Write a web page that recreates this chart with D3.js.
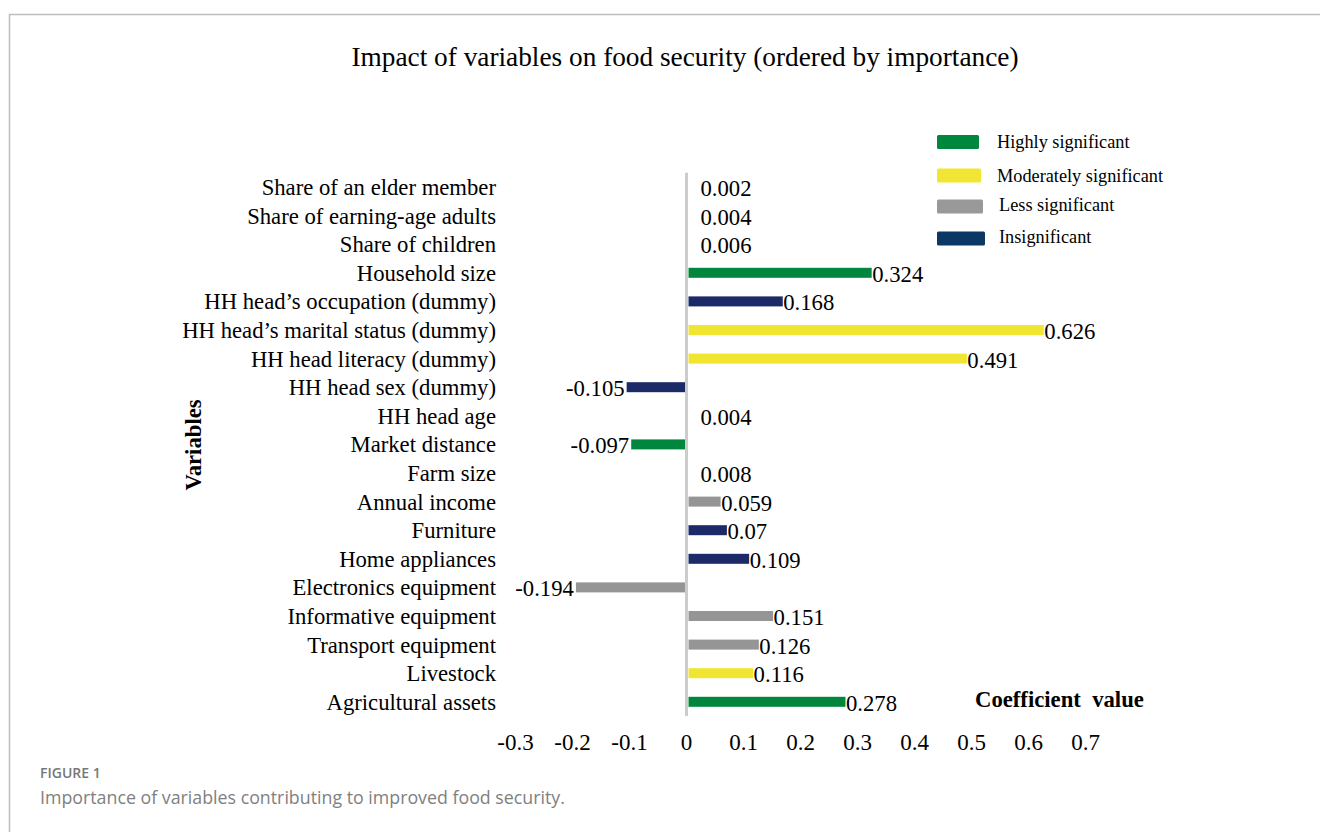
<!DOCTYPE html>
<meta charset="utf-8">
<style>
body { margin: 0; background: #fff; }
text { font-family: "Liberation Serif", "Times New Roman", serif; fill: #000; }
.caption { font-family: "Open Sans", sans-serif; }
</style>
<body>
<script src="https://d3js.org/d3.v7.min.js"></script>
<script>

var width = 1320,
    height = 832;

// variables, top to bottom as in the figure
var variables = [
  "Share of an elder member", "Share of earning-age adults", "Share of children",
  "Household size", "HH head\u2019s occupation (dummy)", "HH head\u2019s marital status (dummy)",
  "HH head literacy (dummy)", "HH head sex (dummy)", "HH head age", "Market distance",
  "Farm size", "Annual income", "Furniture", "Home appliances", "Electronics equipment",
  "Informative equipment", "Transport equipment", "Livestock", "Agricultural assets"
];
var coefs = [0.002, 0.004, 0.006, 0.324, 0.168, 0.626, 0.491, -0.105, 0.004, -0.097,
             0.008, 0.059, 0.07, 0.109, -0.194, 0.151, 0.126, 0.116, 0.278];
// significance group of each variable ("" = no visible bar)
var signif = ["", "", "", "Highly significant", "Insignificant", "Moderately significant",
              "Moderately significant", "Insignificant", "", "Highly significant",
              "", "Less significant", "Insignificant", "Insignificant", "Less significant",
              "Less significant", "Less significant", "Moderately significant", "Highly significant"];

var groups = ["Highly significant", "Moderately significant", "Less significant", "Insignificant"];
var barColors = ["#00873d", "#f0e531", "#959595", "#1d2a68"];
var legendColors = ["#00873d", "#f2e632", "#999999", "#0b3764"];
var ticks = [-0.3, -0.2, -0.1, 0, 0.1, 0.2, 0.3, 0.4, 0.5, 0.6, 0.7];

var svg = d3.select("body").append("svg")
    .attr("width", width)
    .attr("height", height);

// page frame
svg.append("path")
    .attr("d", "M9.5,832V14.5H1320")
    .attr("fill", "none")
    .attr("stroke", "#bdbdbd")
    .attr("stroke-width", 1.5);

var x = d3.scaleLinear().domain([0, 0.7]).range([686.5, 1085.5]);
var y = d3.scaleBand().domain(variables).range([172.7, 716.1]);
var color = d3.scaleOrdinal().domain(groups).range(barColors);

var rows = variables.map(function(v, i) { return {name: v, value: coefs[i], group: signif[i]}; });

svg.append("text")
    .attr("x", 685).attr("y", 66)
    .attr("text-anchor", "middle")
    .style("font-size", "27.3px")
    .text("Impact of variables on food security (ordered by importance)");

// zero line
svg.append("line")
    .attr("x1", x(0)).attr("x2", x(0))
    .attr("y1", y.range()[0]).attr("y2", y.range()[1])
    .attr("stroke", "#cccccc")
    .attr("stroke-width", 3);

var g = svg.append("g");

g.selectAll("rect.bar")
    .data(rows.filter(function(d) { return d.group; }))
    .enter().append("rect")
    .attr("class", "bar")
    .attr("x", function(d) { return d.value > 0 ? x(0) + 2 : x(d.value); })
    .attr("width", function(d) { return Math.abs(x(d.value) - x(0)) - 1.5; })
    .attr("y", function(d) { return y(d.name) + y.bandwidth() / 2 - 5; })
    .attr("height", 10)
    .attr("fill", function(d) { return color(d.group); });

// category labels
g.selectAll("text.cat")
    .data(rows)
    .enter().append("text")
    .attr("class", "cat")
    .attr("x", 496)
    .attr("y", function(d) { return y(d.name) + y.bandwidth() / 2; })
    .attr("dy", "0.35em")
    .attr("text-anchor", "end")
    .style("font-size", "22.7px")
    .text(function(d) { return d.name; });

// value labels
g.selectAll("text.val")
    .data(rows)
    .enter().append("text")
    .attr("class", "val")
    .attr("x", function(d) {
      if (d.value < 0) return x(d.value) - 2;
      return d.group ? x(d.value) + 1 : x(0) + 14;
    })
    .attr("y", function(d) { return y(d.name) + y.bandwidth() / 2 + 1; })
    .attr("dy", "0.35em")
    .attr("text-anchor", function(d) { return d.value < 0 ? "end" : "start"; })
    .style("font-size", "22.7px")
    .text(function(d) { return d.value; });

// x tick labels
svg.append("g").selectAll("text")
    .data(ticks)
    .enter().append("text")
    .attr("x", function(d) { return x(d); })
    .attr("y", 750)
    .attr("text-anchor", "middle")
    .style("font-size", "23px")
    .text(function(d) { return d; });

svg.append("text")
    .attr("x", 975).attr("y", 707)
    .style("font-size", "22.7px")
    .style("font-weight", "bold")
    .style("white-space", "pre")
    .text("Coefficient  value");

svg.append("text")
    .attr("transform", "translate(201,445) rotate(-90)")
    .attr("text-anchor", "middle")
    .style("font-size", "22.7px")
    .style("font-weight", "bold")
    .text("Variables");

// legend
var legY = [142, 175.5, 206.5, 238.5];
var leg = svg.append("g").selectAll("g")
    .data(groups)
    .enter().append("g")
    .attr("transform", function(d, i) { return "translate(0," + legY[i] + ")"; });
leg.append("rect")
    .attr("x", 937).attr("y", -7)
    .attr("width", function(d, i) { return 42 + i * 2; })
    .attr("height", 14)
    .attr("rx", 1.5)
    .attr("fill", function(d, i) { return legendColors[i]; });
leg.append("text")
    .attr("x", function(d, i) { return i < 2 ? 997 : 999; })
    .attr("y", function(d, i) { return i < 2 ? 0 : -1.5; })
    .attr("dy", "0.35em")
    .style("font-size", "18.3px")
    .text(function(d) { return d; });

// caption
svg.append("text")
    .attr("class", "caption")
    .attr("x", 40).attr("y", 778)
    .style("font-size", "14px")
    .style("font-weight", "600")
    .style("fill", "#777777")
    .text("FIGURE 1");
svg.append("text")
    .attr("class", "caption")
    .attr("x", 40).attr("y", 804)
    .style("font-size", "17.8px")
    .style("fill", "#808080")
    .text("Importance of variables contributing to improved food security.");

</script>
